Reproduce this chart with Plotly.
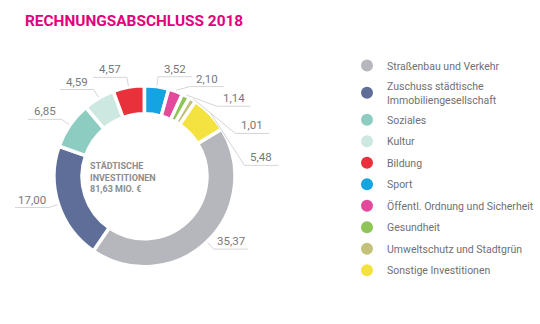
import math
import plotly.graph_objects as go

# ---------------- data ----------------
title_text = "RECHNUNGSABSCHLUSS 2018"
categories = [
    "Straßenbau und Verkehr",
    "Zuschuss städtische<br>Immobiliengesellschaft",
    "Soziales",
    "Kultur",
    "Bildung",
    "Sport",
    "Öffentl. Ordnung und Sicherheit",
    "Gesundheit",
    "Umweltschutz und Stadtgrün",
    "Sonstige Investitionen",
]
values = [35.37, 17.00, 6.85, 4.59, 4.57, 3.52, 2.10, 1.14, 1.01, 5.48]
colors = [
    "#b6b7bd", "#5e6e98", "#8dccc0", "#cde8e1", "#e8313b",
    "#13a4e1", "#e34a9b", "#8ec556", "#c4c17b", "#f3e23f",
]
center_lines = ["STÄDTISCHE", "INVESTITIONEN"]
unit_text = "MIO. €"

# ---------------- layout constants ----------------
W, H = 540, 324
CX, CY, R = 144.5, 176.3, 90.5
HOLE = 0.69
TOP_SPLIT = 5          # slice that begins at 12 o'clock
LABEL_R = R + 10
MIN_SEP = 19.0
LEADER_LEN = 34
TEXT_GRAY = "#77787b"
LINE_GRAY = "#d6d6d6"
FONT = "Roboto"


def fmt(v):
    return f"{v:.2f}".replace(".", ",")


def px(x, y):
    return x / W, 1 - y / H


total = sum(values)
rotation = 360.0 * (1 - sum(values[:TOP_SPLIT]) / total)

fig = go.Figure()
fig.add_trace(go.Pie(
    labels=categories,
    values=values,
    sort=False,
    direction="clockwise",
    rotation=rotation,
    hole=HOLE,
    textinfo="none",
    hoverinfo="label+value",
    marker=dict(colors=colors, line=dict(color="white", width=3.5)),
    domain=dict(x=[(CX - R) / W, (CX + R) / W], y=[1 - (CY + R) / H, 1 - (CY - R) / H]),
    showlegend=False,
))

# legend entries as circular markers
for k, (cat, col) in enumerate(zip(categories, colors)):
    fig.add_trace(go.Scatter(
        x=[None], y=[None], mode="markers", name=cat, legendgroup=f"g{k}",
        marker=dict(size=12, color=col), showlegend=True, hoverinfo="skip",
    ))

# value labels with leader lines (angles derived from the data)
mids = []
cum = 0.0
for v in values:
    a = (rotation + 360.0 * (cum + v / 2) / total) % 360
    mids.append(a)
    cum += v
order = sorted(range(len(values)), key=lambda i: mids[i])
label_ang = {}
prev = None
for i in order:
    a = mids[i] if prev is None else max(mids[i], prev + MIN_SEP)
    label_ang[i] = a
    prev = a

shapes = []
annotations = []
for i, v in enumerate(values):
    am = math.radians(mids[i])
    al = math.radians(label_ang[i])
    x0, y0 = CX + (R + 1) * math.sin(am), CY - (R + 1) * math.cos(am)
    x1, y1 = CX + LABEL_R * math.sin(al), CY - LABEL_R * math.cos(al)
    side = 1 if math.sin(al) >= 0 else -1
    x2 = x1 + side * LEADER_LEN
    p0, p1, p2 = px(x0, y0), px(x1, y1), px(x2, y1)
    shapes.append(dict(
        type="path", xref="paper", yref="paper",
        path=f"M {p0[0]},{p0[1]} L {p1[0]},{p1[1]} L {p2[0]},{p2[1]}",
        line=dict(color=LINE_GRAY, width=1),
    ))
    tx, ty = px((x1 + x2) / 2, y1)
    annotations.append(dict(
        x=tx, y=ty, xref="paper", yref="paper", xanchor="center", yanchor="bottom",
        text=fmt(v), showarrow=False, font=dict(family=FONT, size=11.5, color=TEXT_GRAY),
        borderpad=0,
    ))

# center text
cx_, cy_ = px(88, 177)
annotations.append(dict(
    x=cx_, y=cy_, xref="paper", yref="paper", xanchor="left", yanchor="middle",
    align="left", showarrow=False,
    text="<br>".join(center_lines + [f"{fmt(total)} {unit_text}"]),
    font=dict(family=FONT, size=9, color="#8b8d90", weight="bold"),
))

lx, ly = px(347, 51)
fig.update_layout(
    width=W, height=H,
    margin=dict(l=0, r=0, t=0, b=0),
    paper_bgcolor="white", plot_bgcolor="white",
    title=dict(
        text=title_text, x=25 / W, y=1 - 21 / H, xanchor="left", yanchor="middle",
        xref="paper", yref="paper",
        font=dict(family=FONT, size=15.4, color="#e2007a", weight="bold"),
    ),
    xaxis=dict(visible=False), yaxis=dict(visible=False),
    legend=dict(
        x=lx, y=ly, xanchor="left", yanchor="top",
        font=dict(family=FONT, size=10.5, color="#6f7073"),
        bgcolor="rgba(0,0,0,0)", tracegroupgap=2.5, itemclick=False, itemdoubleclick=False,
    ),
    shapes=shapes,
    annotations=annotations,
)

fig.write_html("out.html")
